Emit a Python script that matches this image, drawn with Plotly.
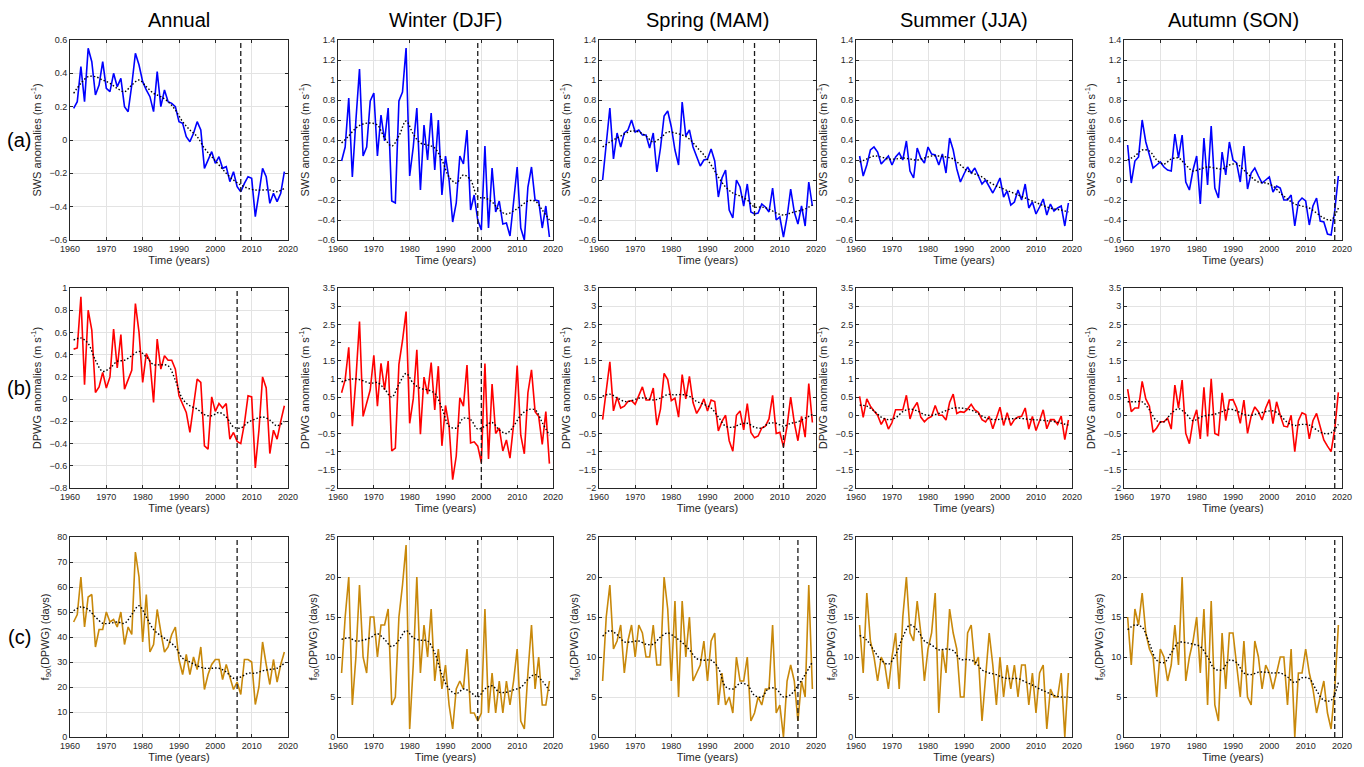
import plotly.graph_objects as go

years = list(range(1961, 2020))
smooth_years = list(range(1961, 2020, 2))

col_titles = ["Annual", "Winter (DJF)", "Spring (MAM)", "Summer (JJA)", "Autumn (SON)"]
row_labels = ["(a)", "(b)", "(c)"]
x_ticks = [1960, 1970, 1980, 1990, 2000, 2010, 2020]

# ---------------- Row (a): SWS anomalies ----------------
sws_annual = [0.19, 0.23, 0.44, 0.23, 0.55, 0.47, 0.27, 0.33, 0.47, 0.31,
              0.29, 0.40, 0.32, 0.37, 0.20, 0.17, 0.33, 0.52, 0.45, 0.35,
              0.30, 0.26, 0.17, 0.41, 0.20, 0.30, 0.23, 0.22, 0.20, 0.11,
              0.10, 0.02, -0.01, 0.04, 0.11, 0.06, -0.17, -0.12, -0.07, -0.14,
              -0.10, -0.17, -0.16, -0.25, -0.19, -0.28, -0.31, -0.26, -0.22, -0.23,
              -0.46, -0.32, -0.17, -0.22, -0.38, -0.32, -0.37, -0.32, -0.19]
sws_winter = [0.19, 0.33, 0.82, 0.03, 0.60, 1.11, 0.24, 0.33, 0.79, 0.87,
              0.24, 0.65, 0.39, 0.72, -0.21, -0.23, 0.79, 0.88, 1.32, 0.04,
              0.33, 0.72, -0.10, 0.55, 0.20, 0.67, 0.10, 0.60, -0.15, 0.24,
              0.00, -0.42, -0.23, 0.24, 0.16, 0.50, -0.30, -0.15, -0.40, -0.50,
              0.34, -0.48, 0.12, -0.32, -0.21, -0.44, -0.43, -0.56, -0.22, 0.13,
              -0.48, -0.60, -0.07, 0.13, -0.20, -0.21, -0.48, -0.26, -0.57]
sws_spring = [0.00, 0.40, 0.72, 0.21, 0.47, 0.33, 0.47, 0.50, 0.60, 0.48,
              0.50, 0.45, 0.45, 0.32, 0.47, 0.08, 0.32, 0.64, 0.69, 0.53,
              0.30, 0.15, 0.78, 0.44, 0.50, 0.33, 0.24, 0.14, 0.20, 0.21,
              0.31, 0.19, -0.17, 0.02, 0.10, -0.30, -0.38, 0.00, -0.07, -0.26,
              -0.04, -0.32, -0.34, -0.33, -0.24, -0.27, -0.32, -0.08, -0.40, -0.37,
              -0.57, -0.37, -0.09, -0.32, -0.44, -0.26, -0.46, -0.02, -0.26]
sws_summer = [0.24, 0.04, 0.15, 0.30, 0.33, 0.28, 0.16, 0.20, 0.24, 0.15,
              0.23, 0.27, 0.20, 0.39, 0.09, 0.02, 0.32, 0.22, 0.17, 0.33,
              0.26, 0.25, 0.15, 0.26, 0.07, 0.42, 0.30, 0.11, -0.02, 0.06,
              0.13, 0.07, 0.12, 0.04, -0.04, 0.00, -0.06, -0.13, -0.06, 0.02,
              -0.17, -0.11, -0.25, -0.22, -0.10, -0.20, -0.04, -0.28, -0.22, -0.34,
              -0.27, -0.19, -0.35, -0.24, -0.31, -0.28, -0.26, -0.46, -0.23]
sws_autumn = [0.35, -0.03, 0.19, 0.23, 0.60, 0.38, 0.25, 0.12, 0.15, 0.18,
              0.13, 0.10, 0.09, 0.46, 0.22, 0.45, -0.02, -0.10, 0.10, 0.24,
              -0.24, 0.42, -0.05, 0.54, -0.08, -0.18, 0.28, 0.05, 0.38, 0.20,
              0.17, -0.02, 0.34, -0.09, 0.07, 0.12, 0.04, -0.03, 0.00, 0.03,
              -0.12, -0.06, -0.08, -0.20, -0.20, -0.15, -0.46, -0.22, -0.18, -0.21,
              -0.45, -0.26, -0.18, -0.41, -0.42, -0.54, -0.55, -0.31, 0.04]

sws_annual_s = [0.28, 0.34, 0.38, 0.38, 0.36, 0.34, 0.31, 0.29, 0.33, 0.36,
                0.32, 0.28, 0.26, 0.23, 0.18, 0.11, 0.06, 0.02, -0.05, -0.10,
                -0.15, -0.20, -0.24, -0.27, -0.29, -0.30, -0.30, -0.30, -0.31, -0.29]
sws_winter_s = [0.37, 0.44, 0.52, 0.56, 0.57, 0.55, 0.42, 0.34, 0.44, 0.59,
                0.46, 0.37, 0.35, 0.32, 0.20, 0.03, -0.03, 0.05, 0.00, -0.17,
                -0.18, -0.22, -0.30, -0.34, -0.31, -0.26, -0.21, -0.21, -0.30, -0.40]
sws_spring_s = [0.33, 0.38, 0.42, 0.46, 0.49, 0.48, 0.44, 0.38, 0.42, 0.48,
                0.47, 0.45, 0.41, 0.33, 0.25, 0.15, 0.03, -0.07, -0.13, -0.16,
                -0.20, -0.27, -0.27, -0.29, -0.33, -0.35, -0.33, -0.31, -0.29, -0.25]
sws_summer_s = [0.18, 0.21, 0.24, 0.23, 0.21, 0.21, 0.22, 0.21, 0.20, 0.22,
                0.24, 0.24, 0.23, 0.21, 0.15, 0.09, 0.06, 0.03, -0.02, -0.06,
                -0.09, -0.12, -0.15, -0.18, -0.21, -0.24, -0.27, -0.29, -0.30, -0.32]
sws_autumn_s = [0.20, 0.24, 0.30, 0.29, 0.20, 0.16, 0.21, 0.22, 0.15, 0.09,
                0.11, 0.13, 0.12, 0.11, 0.15, 0.16, 0.10, 0.03, -0.02, -0.03,
                -0.06, -0.13, -0.19, -0.24, -0.26, -0.28, -0.33, -0.38, -0.40, -0.28]

# ---------------- Row (b): DPWG anomalies ----------------
dpwg_annual = [0.45, 0.46, 0.92, 0.13, 0.80, 0.62, 0.06, 0.11, 0.24, 0.10,
               0.20, 0.63, 0.28, 0.58, 0.09, 0.18, 0.26, 0.86, 0.60, 0.15,
               0.41, 0.34, -0.03, 0.54, 0.27, 0.39, 0.35, 0.35, 0.27, 0.03,
               -0.04, -0.12, -0.30, -0.06, 0.18, 0.15, -0.42, -0.45, 0.02, -0.11,
               -0.04, -0.08, -0.04, -0.36, -0.30, -0.38, -0.40, -0.22, 0.03, 0.02,
               -0.62, -0.28, 0.20, 0.10, -0.49, -0.28, -0.36, -0.20, -0.06]
dpwg_winter = [0.62, 0.98, 1.87, -0.30, 1.00, 2.58, -0.03, 0.30, 0.70, 1.65,
               0.25, 1.43, 0.70, 1.49, -0.98, -0.90, 1.40, 2.05, 2.85, -0.22,
               0.45, 1.80, -0.52, 1.05, 0.58, 1.45, 0.15, 1.35, -0.84, 0.27,
               -0.30, -1.77, -1.12, 0.48, 0.25, 1.38, -0.76, -0.73, -0.85, -1.30,
               1.42, -1.20, 0.86, -0.50, -0.35, -0.98, -0.68, -1.18, -0.25, 1.37,
               -0.55, -1.06, 0.62, 1.25, 0.10, -0.03, -0.80, 0.10, -1.33]
dpwg_spring = [-0.12, 0.60, 1.47, 0.12, 0.50, 0.20, 0.25, 0.38, 0.40, 0.30,
               0.55, 0.78, 0.42, 0.42, 0.75, -0.27, 0.17, 1.15, 0.98, 0.40,
               0.47, -0.05, 1.12, 0.45, 1.07, 0.35, 0.05, 0.22, 0.45, 0.12,
               0.42, 0.38, -0.43, -0.17, 0.00, -0.70, -0.99, 0.00, 0.12, -0.40,
               0.32, -0.47, -0.62, -0.57, -0.35, -0.30, -0.10, 0.55, -0.50, -0.47,
               -0.87, -0.30, 0.50, -0.20, -0.70, -0.03, -0.60, 0.87, -0.20]
dpwg_summer = [0.52, -0.06, 0.45, 0.25, 0.12, 0.00, -0.25, -0.08, -0.38, -0.20,
               0.15, 0.14, 0.15, 0.55, -0.10, 0.20, 0.35, -0.05, -0.18, -0.08,
               -0.03, 0.27, 0.00, 0.00, -0.13, 0.35, 0.58, 0.05, 0.10, 0.08,
               0.17, 0.30, 0.15, 0.08, -0.12, -0.18, -0.03, -0.37, -0.05, 0.22,
               -0.28, 0.07, -0.28, -0.12, -0.05, -0.03, 0.20, -0.38, -0.03, -0.42,
               -0.15, 0.15, -0.37, -0.12, -0.12, -0.25, -0.02, -0.67, -0.13]
dpwg_autumn = [0.72, 0.10, 0.20, 0.20, 0.93, 0.45, 0.25, -0.47, -0.35, -0.18,
               -0.18, -0.08, -0.38, 0.83, 0.20, 0.97, -0.50, -0.78, -0.15, 0.15,
               -0.65, 0.77, -0.58, 1.00, -0.50, -0.55, 0.62, -0.15, 0.42, 0.43,
               0.20, -0.22, 0.42, -0.50, -0.02, 0.23, 0.10, -0.13, 0.20, 0.43,
               -0.23, 0.37, 0.00, -0.30, -0.32, 0.00, -1.00, -0.15, 0.07, 0.02,
               -0.65, -0.15, 0.05, -0.35, -0.68, -0.85, -1.00, -0.38, 0.63]

dpwg_annual_s = [0.53, 0.55, 0.50, 0.35, 0.25, 0.28, 0.34, 0.35, 0.39, 0.43,
                 0.38, 0.31, 0.31, 0.30, 0.17, 0.00, -0.06, -0.09, -0.14, -0.15,
                 -0.12, -0.16, -0.25, -0.26, -0.21, -0.18, -0.16, -0.19, -0.24, -0.20]
dpwg_winter_s = [0.92, 0.98, 1.00, 0.95, 0.88, 0.90, 0.72, 0.50, 0.85, 1.15,
                 0.88, 0.74, 0.70, 0.60, 0.20, -0.30, -0.35, -0.08, -0.12, -0.38,
                 -0.30, -0.20, -0.40, -0.50, -0.30, 0.00, 0.15, 0.15, -0.20, -0.55]
dpwg_spring_s = [0.52, 0.58, 0.48, 0.38, 0.40, 0.47, 0.47, 0.42, 0.47, 0.57,
                 0.56, 0.57, 0.52, 0.38, 0.30, 0.20, -0.05, -0.30, -0.33, -0.25,
                 -0.22, -0.33, -0.35, -0.22, -0.22, -0.30, -0.22, -0.18, -0.08, 0.02]
dpwg_summer_s = [0.28, 0.25, 0.12, -0.05, -0.12, -0.07, 0.10, 0.17, 0.12, 0.02,
                 0.00, 0.05, 0.13, 0.20, 0.20, 0.17, 0.10, -0.02, -0.10, -0.12,
                 -0.10, -0.10, -0.08, -0.10, -0.12, -0.13, -0.15, -0.17, -0.22, -0.27]
dpwg_autumn_s = [0.37, 0.37, 0.37, 0.15, -0.15, -0.18, 0.05, 0.18, 0.05, -0.15,
                 -0.05, 0.00, 0.03, 0.10, 0.17, 0.12, 0.02, 0.00, 0.05, 0.10,
                 0.12, 0.00, -0.20, -0.28, -0.25, -0.27, -0.40, -0.50, -0.48, -0.25]

# ---------------- Row (c): f90(DPWG) ----------------
f90_annual = [46, 49, 64, 44, 56, 57, 36, 43, 43, 50,
              46, 47, 44, 50, 37, 44, 41, 74, 64, 38,
              57, 34, 37, 51, 42, 34, 36, 41, 44, 31,
              25, 33, 25, 32, 27, 36, 19, 25, 29, 31,
              31, 23, 29, 24, 19, 22, 17, 31, 31, 30,
              13, 20, 38, 29, 21, 31, 22, 29, 34]
f90_winter = [8, 15, 20, 4, 10, 19, 10, 8, 15, 15,
              10, 14, 14, 16, 4, 5, 15, 19, 24, 1,
              9, 20, 8, 14, 10, 16, 7, 11, 6, 9,
              4, 1, 6, 7, 6, 11, 3, 3, 2, 3,
              16, 3, 8, 3, 7, 3, 7, 4, 7, 11,
              2, 1, 8, 14, 6, 10, 4, 4, 7]
f90_spring = [7, 15, 19, 11, 12, 14, 8, 12, 14, 10,
              14, 13, 10, 10, 14, 9, 9, 20, 16, 7,
              17, 5, 17, 10, 15, 7, 8, 9, 12, 7,
              12, 13, 4, 8, 4, 5, 3, 10, 7, 7,
              10, 2, 3, 5, 4, 6, 6, 14, 3, 4,
              0, 7, 9, 7, 2, 7, 5, 19, 6]
f90_summer = [14, 8, 18, 12, 10, 7, 10, 9, 6, 10,
              13, 6, 15, 20, 13, 12, 17, 13, 7, 11,
              13, 18, 3, 11, 8, 16, 13, 11, 5, 5,
              13, 14, 9, 10, 2, 8, 13, 9, 4, 10,
              5, 9, 6, 9, 5, 9, 9, 4, 8, 3,
              8, 9, 1, 6, 5, 5, 8, 0, 8]
f90_autumn = [15, 9, 16, 14, 18, 13, 11, 10, 5, 11,
              10, 7, 9, 14, 9, 20, 7, 10, 12, 15,
              8, 16, 4, 17, 4, 2, 13, 6, 13, 13,
              9, 5, 12, 5, 4, 12, 10, 6, 9, 8,
              6, 8, 10, 10, 4, 11, 0, 8, 8, 11,
              8, 6, 3, 5, 7, 3, 1, 6, 14]

f90_annual_s = [50.5, 52, 51, 48, 45.5, 45.5, 46, 45.5, 49, 52.5,
                48, 43, 40.5, 38.5, 36, 31.5, 30, 28.5, 27.5, 27.5,
                27.5, 26, 23.5, 24, 25.5, 25.5, 26.5, 27, 27.5, 29.5]
f90_winter_s = [12.2, 12.4, 12.0, 12.1, 12.4, 12.9, 12.2, 11.3, 12.1, 13.3,
                12.4, 12.1, 12.0, 10.5, 7.8, 6.0, 5.4, 6.0, 5.6, 5.0,
                6.0, 6.4, 5.6, 5.6, 5.9, 6.2, 7.2, 7.8, 7.0, 5.8]
f90_spring_s = [12.6, 13.3, 12.8, 11.9, 11.9, 12.0, 11.6, 11.6, 12.5, 13.0,
                12.5, 11.8, 10.9, 9.8, 9.6, 9.6, 8.6, 6.3, 6.0, 6.7,
                6.5, 5.2, 5.0, 6.1, 6.0, 5.0, 5.3, 6.4, 7.8, 9.4]
f90_summer_s = [12.7, 12.1, 10.8, 9.6, 9.1, 10.3, 12.5, 14.0, 13.4, 12.0,
                11.5, 10.9, 11.0, 10.8, 9.7, 9.7, 9.4, 8.4, 8.0, 7.8,
                7.4, 7.3, 7.3, 6.9, 6.5, 6.0, 5.6, 5.2, 5.0, 5.0]
f90_autumn_s = [13.4, 14.0, 13.7, 11.7, 9.6, 9.3, 10.5, 11.8, 11.8, 11.6,
                11.3, 10.0, 8.5, 8.4, 9.6, 9.3, 8.0, 7.8, 8.1, 8.1,
                8.0, 8.0, 7.5, 6.8, 7.4, 7.3, 5.8, 4.6, 4.6, 6.8]

# Break years (dashed vertical lines); None = no line
break_years = [[2007, 1999, 2003, None, 2018],
               [2006, 2000, 2011, None, 2018],
               [2006, 1999, 2015, None, 2018]]

raw = [[sws_annual, sws_winter, sws_spring, sws_summer, sws_autumn],
       [dpwg_annual, dpwg_winter, dpwg_spring, dpwg_summer, dpwg_autumn],
       [f90_annual, f90_winter, f90_spring, f90_summer, f90_autumn]]
smooth = [[sws_annual_s, sws_winter_s, sws_spring_s, sws_summer_s, sws_autumn_s],
          [dpwg_annual_s, dpwg_winter_s, dpwg_spring_s, dpwg_summer_s, dpwg_autumn_s],
          [f90_annual_s, f90_winter_s, f90_spring_s, f90_summer_s, f90_autumn_s]]

row_colors = ["#0000FF", "#FF0000", "#C8880A"]
row_ytitles = ["SWS anomalies (m s<sup>-1</sup>)",
               "DPWG anomalies (m s<sup>-1</sup>)",
               "f<sub>90</sub>(DPWG) (days)"]
# y ranges and tick steps: [annual, seasons]
row_yrange = [([-0.6, 0.6], 0.2, [-0.6, 1.4], 0.2),
              ([-0.8, 1.0], 0.2, [-2.0, 3.5], 0.5),
              ([0, 80], 10, [0, 25], 5)]

# ---------------- layout geometry (pixels) ----------------
W, H = 1364, 767
col_px = [(70, 288), (338, 553), (599, 816), (856, 1072), (1124, 1342)]
row_px = [(40, 240), (288, 488), (537, 737)]

FONT = "Arial, Liberation Sans, Helvetica, sans-serif"
AXC = "#262626"

fig = go.Figure()
layout_axes = {}
shapes = []
for r in range(3):
    for c in range(5):
        k = r * 5 + c + 1
        xa = "x" if k == 1 else f"x{k}"
        ya = "y" if k == 1 else f"y{k}"
        fig.add_trace(go.Scatter(x=years, y=raw[r][c], mode="lines",
                                 line=dict(color=row_colors[r], width=1.6),
                                 xaxis=xa, yaxis=ya, showlegend=False))
        fig.add_trace(go.Scatter(x=smooth_years, y=smooth[r][c], mode="lines",
                                 line=dict(color="black", width=1.4, dash="1.5px,2px",
                                           shape="spline"),
                                 xaxis=xa, yaxis=ya, showlegend=False))
        x0, x1 = col_px[c]
        y0, y1 = row_px[r]
        if c == 0:
            yr, ystep = row_yrange[r][0], row_yrange[r][1]
        else:
            yr, ystep = row_yrange[r][2], row_yrange[r][3]
        common = dict(showline=True, mirror="ticks", linecolor=AXC, linewidth=1,
                      ticks="inside", ticklen=3, tickcolor=AXC, automargin=False,
                      showgrid=True, gridcolor="#e3e3e3", gridwidth=1,
                      zeroline=False, tickfont=dict(family=FONT, size=9, color=AXC))
        xkey = "xaxis" if k == 1 else f"xaxis{k}"
        ykey = "yaxis" if k == 1 else f"yaxis{k}"
        layout_axes[xkey] = dict(common, domain=[x0 / W, x1 / W], anchor=ya,
                                 range=[1960, 2020], tickmode="array",
                                 tickvals=x_ticks, ticktext=[str(t) for t in x_ticks],
                                 title=dict(text="Time (years)", standoff=3,
                                            font=dict(family=FONT, size=11, color=AXC)))
        layout_axes[ykey] = dict(common, domain=[1 - y1 / H, 1 - y0 / H], anchor=xa,
                                 range=yr, dtick=ystep, tick0=yr[0],
                                 title=dict(text=row_ytitles[r], standoff=5,
                                            font=dict(family=FONT, size=11, color=AXC)))
        by = break_years[r][c]
        if by is not None:
            shapes.append(dict(type="line", xref=xa, yref=f"{ya} domain",
                               x0=by, x1=by, y0=0, y1=1,
                               line=dict(color="#1a1a1a", width=1.3, dash="5px,3px")))

annotations = []
for c, t in enumerate(col_titles):
    x0, x1 = col_px[c]
    annotations.append(dict(text=t, x=(x0 + x1) / 2 / W, y=1 - 20 / H,
                            xref="paper", yref="paper", showarrow=False,
                            xanchor="center", yanchor="middle",
                            font=dict(family=FONT, size=20, color="black")))
for r, t in enumerate(row_labels):
    y0, y1 = row_px[r]
    annotations.append(dict(text=t, x=19 / W, y=1 - ((y0 + y1) / 2) / H,
                            xref="paper", yref="paper", showarrow=False,
                            xanchor="center", yanchor="middle",
                            font=dict(family=FONT, size=20, color="black")))

fig.update_layout(width=W, height=H, margin=dict(l=0, r=0, t=0, b=0),
                  paper_bgcolor="white", plot_bgcolor="white",
                  shapes=shapes, annotations=annotations, **layout_axes)

fig.write_html("out.html", config={"displayModeBar": False},
               post_script="document.body.style.margin='0';document.body.style.overflow='hidden';")
